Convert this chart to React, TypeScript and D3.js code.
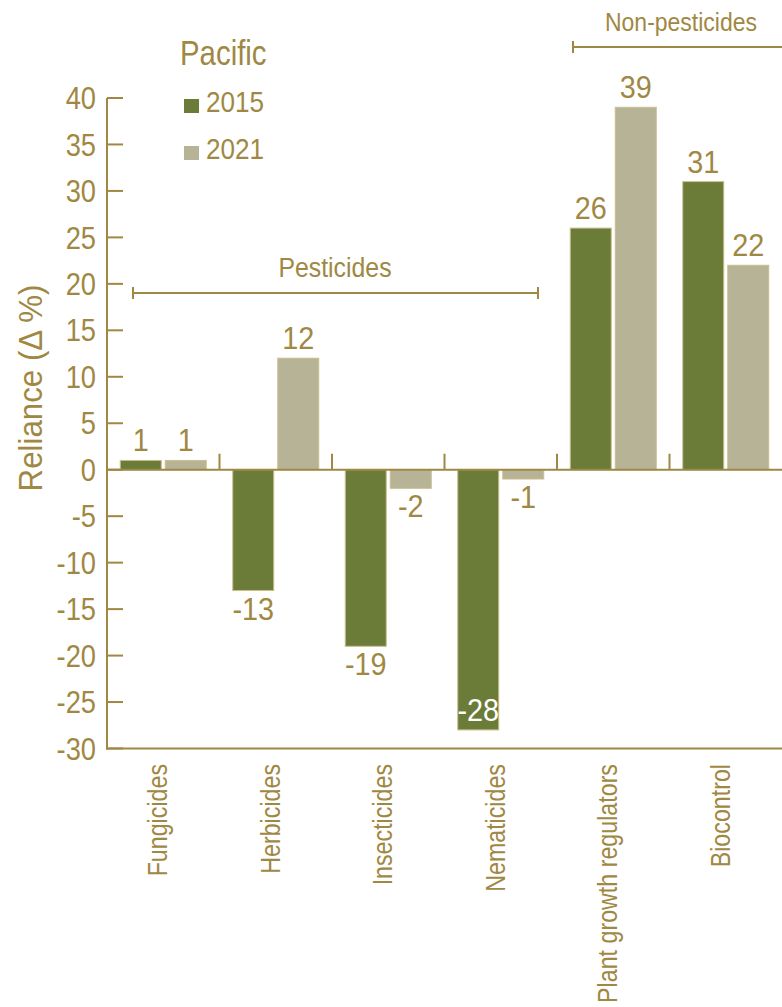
import React from "react";
import * as d3 from "d3";

const categories = ["Fungicides", "Herbicides", "Insecticides", "Nematicides", "Plant growth regulators", "Biocontrol"];
const series = ["2015", "2021"];
const values2015 = [1, -13, -19, -28, 26, 31];
const values2021 = [1, 12, -2, -1, 39, 22];
const yTicks = [40, 35, 30, 25, 20, 15, 10, 5, 0, -5, -10, -15, -20, -25, -30];
const groups = [
  { label: "Pesticides", from: 0, to: 3 },
  { label: "Non-pesticides", from: 4, to: 5 },
];

const W = 782;
const H = 1007;
const GOLD = "#9f8843";
const C2015 = "#6a7c38";
const C2021 = "#b6b396";
const OUTLINE = "#cbbd8e";
const FONT = "'Liberation Sans', Arial, Helvetica, sans-serif";

type TProps = {
  x: number;
  y: number;
  size: number;
  sx?: number;
  rot?: number;
  anchor?: "start" | "middle" | "end";
  dy?: string;
  fill?: string;
  children: React.ReactNode;
};

function T({ x, y, size, sx = 1, rot = 0, anchor = "start", dy, fill = GOLD, children }: TProps) {
  return (
    <text
      transform={`translate(${x},${y}) rotate(${rot}) scale(${sx},1)`}
      textAnchor={anchor}
      dy={dy}
      fontFamily={FONT}
      fontSize={size}
      fill={fill}
    >
      {children}
    </text>
  );
}

export default function App() {
  const x0 = 107;
  const y = d3.scaleLinear().domain([-30, 40]).range([748.5, 98]);
  const x = d3.scaleBand<string>().domain(categories).range([x0, W]).paddingInner(0).paddingOuter(0);
  const bw = x.bandwidth();
  const inner = d3
    .scaleBand<string>()
    .domain(series)
    .range([13.25, bw - 13.25])
    .paddingInner(0.0889)
    .paddingOuter(0);
  const color = d3.scaleOrdinal<string, string>().domain(series).range([C2015, C2021]);
  const data = categories.flatMap((c, i) => [
    { cat: c, s: "2015", v: values2015[i] },
    { cat: c, s: "2021", v: values2021[i] },
  ]);
  const y0 = y(0);

  return (
    <svg width={W} height={H} style={{ position: "absolute", left: 0, top: 0, background: "#fff" }}>
      {/* bars */}
      {data.map((d, i) => {
        const bx = (x(d.cat) as number) + (inner(d.s) as number);
        const top = Math.min(y(d.v), y0);
        const h = Math.abs(y(d.v) - y0);
        return (
          <rect key={i} x={bx} y={top} width={inner.bandwidth()} height={h} fill={color(d.s)} stroke={OUTLINE} strokeWidth={1} />
        );
      })}
      {/* value labels */}
      {data.map((d, i) => {
        const cx = (x(d.cat) as number) + (inner(d.s) as number) + inner.bandwidth() / 2;
        const inside = d.v <= -25;
        const yy = d.v >= 0 ? y(d.v) - 9 : inside ? y(d.v) - 9 : y(d.v) + 29;
        return (
          <T key={"l" + i} x={cx} y={yy} size={31} sx={0.93} anchor="middle" fill={inside ? "#fff" : GOLD}>
            {d.v}
          </T>
        );
      })}
      {/* y axis */}
      <line x1={x0} x2={x0} y1={y(40)} y2={y(-30) + 1} stroke={GOLD} strokeWidth={2} />
      {yTicks.map((t) => (
        <g key={t}>
          <line x1={x0} x2={x0 + 16} y1={y(t)} y2={y(t)} stroke={GOLD} strokeWidth={2} />
          <T x={96} y={y(t)} dy="0.36em" anchor="end" size={31} sx={0.88}>
            {t}
          </T>
        </g>
      ))}
      {/* zero line and bottom line */}
      <line x1={x0} x2={W} y1={y0} y2={y0} stroke={GOLD} strokeWidth={2} />
      <line x1={x0 - 1} x2={W} y1={y(-30)} y2={y(-30)} stroke={GOLD} strokeWidth={2} />
      {categories.slice(1).map((c) => (
        <line key={"sep" + c} x1={x(c)} x2={x(c)} y1={y0} y2={y0 - 16} stroke={GOLD} strokeWidth={2} />
      ))}
      {/* category labels */}
      {categories.map((c) => (
        <T key={"c" + c} x={(x(c) as number) + bw / 2 - 6} y={764} rot={-90} dy="0.36em" anchor="end" size={28} sx={0.83}>
          {c}
        </T>
      ))}
      {/* y title */}
      <T x={30} y={388} rot={-90} dy="0.36em" anchor="middle" size={34} sx={0.92}>
        Reliance (Δ %)
      </T>
      {/* group brackets */}
      {groups.map((g, gi) => {
        const xa = gi === 0 ? (x(categories[g.from]) as number) + 26 : (x(categories[g.from]) as number) + 16;
        const xb = gi === 0 ? (x(categories[g.to]) as number) + bw - 19 : W + 2;
        const yy = gi === 0 ? 293 : 47;
        return (
          <g key={g.label}>
            <line x1={xa} x2={xb} y1={yy} y2={yy} stroke={GOLD} strokeWidth={2} />
            <line x1={xa} x2={xa} y1={yy - 6} y2={yy + 6} stroke={GOLD} strokeWidth={2} />
            <line x1={xb} x2={xb} y1={yy - 6} y2={yy + 6} stroke={GOLD} strokeWidth={2} />
            <T x={gi === 0 ? 335 : 681} y={yy - 16} anchor="middle" size={gi === 0 ? 27 : 25} sx={0.92}>
              {g.label}
            </T>
          </g>
        );
      })}
      {/* legend */}
      <T x={180} y={65} size={35} sx={0.84}>
        Pacific
      </T>
      {series.map((s, i) => (
        <g key={"lg" + s}>
          <rect x={184} y={99 + i * 47} width={15} height={14} fill={color(s)} />
          <T x={206} y={112 + i * 47} size={29} sx={0.9}>
            {s}
          </T>
        </g>
      ))}
    </svg>
  );
}
